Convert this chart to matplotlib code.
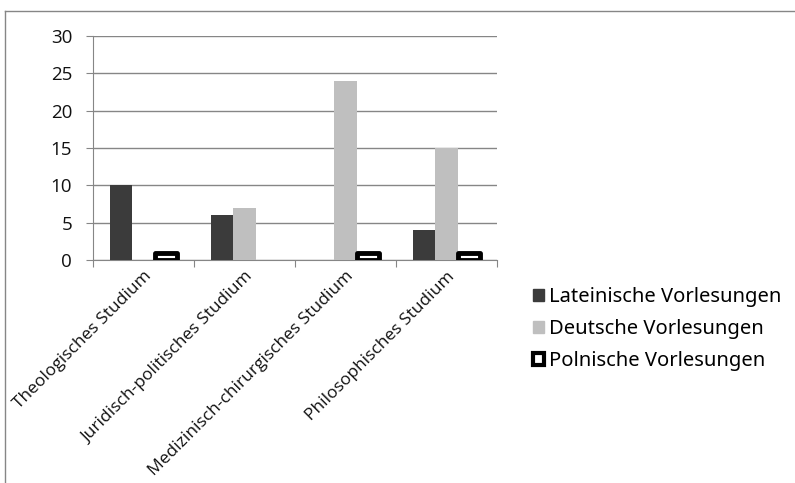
import numpy as np
import matplotlib
matplotlib.use("Agg")
import matplotlib.pyplot as plt
from matplotlib.lines import Line2D
from matplotlib.patches import Patch

# Vorlesungen nach Studium und Sprache
studien = ["Theologisches Studium", "Juridisch-politisches Studium",
           "Medizinisch-chirurgisches Studium", "Philosophisches Studium"]
latein = [10, 6, 0, 4]
deutsch = [0, 7, 24, 15]
polnisch = [1, 0, 1, 1]
serien = ["Lateinische Vorlesungen", "Deutsche Vorlesungen", "Polnische Vorlesungen"]

fig = plt.figure(figsize=(7.95, 4.83), dpi=100)
ax = fig.add_axes([93 / 795, 1 - 260 / 483, 404 / 795, 224 / 483])

x = np.arange(len(studien))
w = 0.22

def bars(vals, off, **kw):
    vals = np.array(vals, dtype=float)
    keep = vals > 0
    ax.bar(x[keep] + off, vals[keep], w, zorder=3, **kw)

bars(latein, -w, color="#3b3b3b")
bars(deutsch, 0, color="#bfbfbf")
bars(polnisch, w, facecolor="white", edgecolor="black", linewidth=3.5,
     joinstyle="round")

ax.set_xlim(-0.5, 3.5)
ax.set_ylim(0, 30)
ax.set_yticks(range(0, 31, 5))
ax.yaxis.grid(True, color="#868686", linewidth=1)
ax.set_axisbelow(True)
for s in ["top", "right"]:
    ax.spines[s].set_visible(False)
ax.spines["left"].set_color("#868686")
ax.spines["bottom"].set_color("#868686")
ax.tick_params(axis="y", length=5, color="#868686", labelsize=13.5, pad=10)
ax.set_xticks(np.arange(-0.5, 4, 1))
ax.set_xticklabels([])
ax.tick_params(axis="x", length=5, color="#868686")
for lbl in ax.get_yticklabels():
    lbl.set_fontfamily("Open Sans")
    lbl.set_color("#111111")

for i, s in enumerate(studien):
    ax.annotate(s, xy=(i, 0), xytext=(0, -6), textcoords="offset points",
                rotation=45, rotation_mode="anchor", ha="right", va="top",
                fontsize=12.5, family="Open Sans", color="#111111")

handles = [Patch(facecolor="#3b3b3b", edgecolor="#3b3b3b"),
           Patch(facecolor="#bfbfbf", edgecolor="#bfbfbf"),
           Patch(facecolor="white", edgecolor="black", linewidth=3)]
leg = fig.legend(handles, serien, loc="center left",
                 bbox_to_anchor=(515 / 795, 1 - 329 / 483), frameon=False,
                 prop={"family": "Noto Sans", "size": 14.5},
                 handlelength=0.55, handleheight=0.55, handletextpad=0.25,
                 labelspacing=0.6)

# Rahmen um das Diagramm
fig.add_artist(Line2D([5 / 795, 5 / 795], [0, 1 - 11 / 483], color="#868686", lw=1))
fig.add_artist(Line2D([5 / 795, 1], [1 - 11 / 483, 1 - 11 / 483], color="#868686", lw=1))

fig.savefig("out.png", dpi=100)
